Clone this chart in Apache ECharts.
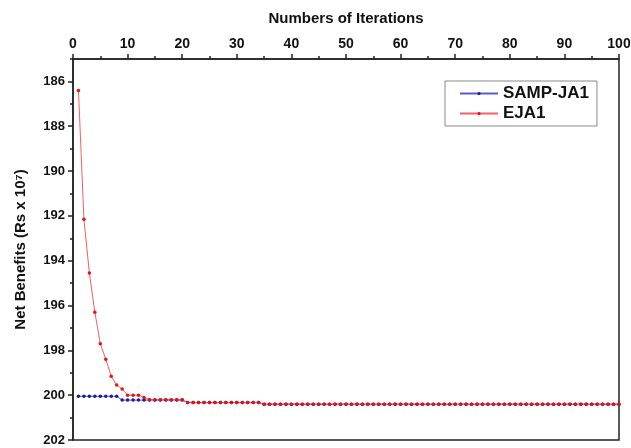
<!DOCTYPE html>
<html>
<head>
<meta charset="utf-8">
<script src="https://cdn.jsdelivr.net/npm/echarts@6/dist/echarts.min.js"></script>
<style>
  html, body { margin: 0; padding: 0; background: #fff; }
  #chart { width: 631px; height: 448px; }
</style>
</head>
<body>
<div id="chart"></div>
<script>
  // net benefits per iteration (iteration 1..100)
  const sampJa1 = [
    200.05, 200.05, 200.05, 200.05, 200.05, 200.05, 200.05, 200.05, 200.22, 200.22,
    200.22, 200.22, 200.22, 200.22, 200.22, 200.22, 200.22, 200.22, 200.22, 200.22,
    200.33, 200.33, 200.33, 200.33, 200.33, 200.33, 200.33, 200.33, 200.33, 200.33,
    200.33, 200.33, 200.33, 200.33, 200.4, 200.4, 200.4, 200.4, 200.4, 200.4,
    200.4, 200.4, 200.4, 200.4, 200.4, 200.4, 200.4, 200.4, 200.4, 200.4,
    200.4, 200.4, 200.4, 200.4, 200.4, 200.4, 200.4, 200.4, 200.4, 200.4,
    200.4, 200.4, 200.4, 200.4, 200.4, 200.4, 200.4, 200.4, 200.4, 200.4,
    200.4, 200.4, 200.4, 200.4, 200.4, 200.4, 200.4, 200.4, 200.4, 200.4,
    200.4, 200.4, 200.4, 200.4, 200.4, 200.4, 200.4, 200.4, 200.4, 200.4,
    200.4, 200.4, 200.4, 200.4, 200.4, 200.4, 200.4, 200.4, 200.4, 200.4
  ];
  const eja1 = [
    186.4, 192.15, 194.55, 196.3, 197.7, 198.4, 199.15, 199.55, 199.72, 200.0,
    200.0, 200.0, 200.1, 200.2, 200.2, 200.2, 200.2, 200.2, 200.2, 200.2,
    200.33, 200.33, 200.33, 200.33, 200.33, 200.33, 200.33, 200.33, 200.33, 200.33,
    200.33, 200.33, 200.33, 200.33, 200.4, 200.4, 200.4, 200.4, 200.4, 200.4,
    200.4, 200.4, 200.4, 200.4, 200.4, 200.4, 200.4, 200.4, 200.4, 200.4,
    200.4, 200.4, 200.4, 200.4, 200.4, 200.4, 200.4, 200.4, 200.4, 200.4,
    200.4, 200.4, 200.4, 200.4, 200.4, 200.4, 200.4, 200.4, 200.4, 200.4,
    200.4, 200.4, 200.4, 200.4, 200.4, 200.4, 200.4, 200.4, 200.4, 200.4,
    200.4, 200.4, 200.4, 200.4, 200.4, 200.4, 200.4, 200.4, 200.4, 200.4,
    200.4, 200.4, 200.4, 200.4, 200.4, 200.4, 200.4, 200.4, 200.4, 200.4
  ];
  const yLabels = [186, 188, 190, 192, 194, 196, 198, 200, 202];
  const yMinor = [185, 187, 189, 191, 193, 195, 197, 199, 201];

  const toPairs = arr => arr.map((v, i) => [i + 1, v]);

  const chart = echarts.init(document.getElementById('chart'));
  const font = 'Liberation Sans, Arial, sans-serif';
  const axisCol = '#222';

  chart.setOption({
    animation: false,
    grid: {
      left: 73, right: 12, top: 59, bottom: 8,
      outerBoundsMode: 'none', containLabel: false,
      show: true, borderColor: axisCol, borderWidth: 1.5, backgroundColor: '#fff'
    },
    legend: {
      left: 445, top: 81,
      orient: 'vertical',
      padding: [4, 8, 4, 14],
      itemGap: 3,
      itemWidth: 38, itemHeight: 4,
      borderColor: '#888', borderWidth: 1,
      textStyle: { fontFamily: font, fontWeight: 'bold', fontSize: 17, color: '#111' },
      data: ['SAMP-JA1', 'EJA1']
    },
    xAxis: {
      type: 'value', position: 'top',
      min: 0, max: 100, interval: 10,
      name: 'Numbers of Iterations', nameLocation: 'middle', nameGap: 33,
      nameTextStyle: { fontFamily: font, fontWeight: 'bold', fontSize: 15, color: '#111' },
      axisLine: { show: true, lineStyle: { color: axisCol, width: 1.5 } },
      axisTick: { show: true, length: 5, lineStyle: { color: axisCol, width: 1.5 } },
      minorTick: { show: true, splitNumber: 2, length: 3, lineStyle: { color: axisCol, width: 1.5 } },
      axisLabel: { fontFamily: font, fontWeight: 'bold', fontSize: 14, color: '#111', margin: 8 },
      splitLine: { show: false }
    },
    yAxis: [{
      type: 'value', inverse: true, min: 185, max: 202, position: 'left',
      name: 'Net Benefits (Rs x 10⁷)', nameLocation: 'middle', nameGap: 45, nameRotate: 90,
      nameTextStyle: { fontFamily: font, fontWeight: 'bold', fontSize: 15, color: '#111' },
      axisLine: { show: true, lineStyle: { color: axisCol, width: 1.5 } },
      axisTick: { show: true, length: 5, customValues: yLabels, lineStyle: { color: axisCol, width: 1.5 } },
      axisLabel: { customValues: yLabels, fontFamily: font, fontWeight: 'bold', fontSize: 13, color: '#111', margin: 8 },
      splitLine: { show: false }
    }, {
      type: 'value', inverse: true, min: 185, max: 202, position: 'left', offset: 0,
      axisLine: { show: false },
      axisTick: { show: true, length: 3, customValues: yMinor, lineStyle: { color: axisCol, width: 1.5 } },
      axisLabel: { show: false, customValues: yMinor },
      splitLine: { show: false }
    }],
    series: [{
      name: 'SAMP-JA1', type: 'line',
      data: toPairs(sampJa1),
      symbol: 'circle', symbolSize: 3.5,
      itemStyle: { color: '#1a1a9a' },
      lineStyle: { color: '#5a5ad0', width: 1 }
    }, {
      name: 'EJA1', type: 'line',
      data: toPairs(eja1),
      symbol: 'circle', symbolSize: 3.5,
      itemStyle: { color: '#e81010' },
      lineStyle: { color: '#f46060', width: 1 }
    }]
  });
</script>
</body>
</html>
